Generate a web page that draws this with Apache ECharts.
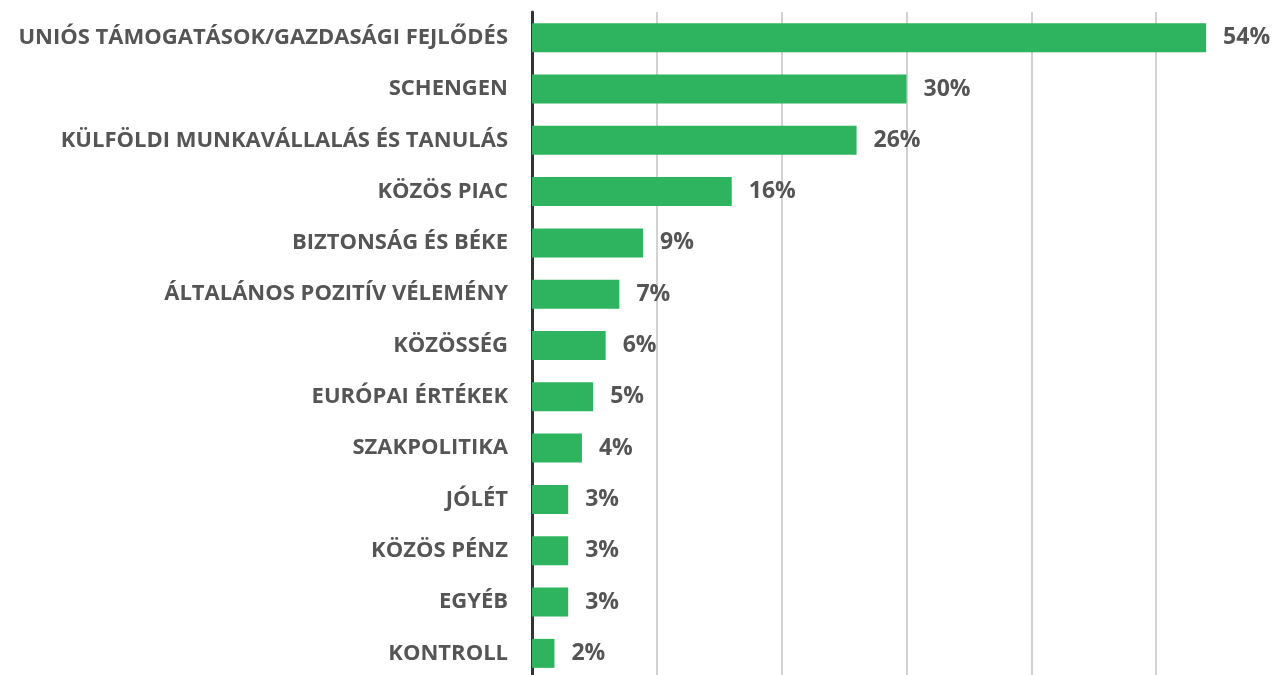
<!DOCTYPE html>
<html>
<head>
<meta charset="utf-8">
<script src="https://cdn.jsdelivr.net/npm/echarts@6/dist/echarts.min.js"></script>
<style>
  html, body { margin: 0; padding: 0; background: #fff; }
  #chart { width: 1274px; height: 675px; }
</style>
</head>
<body>
<div id="chart"></div>
<script>
// categories top to bottom
const categories = [
  "UNIÓS TÁMOGATÁSOK/GAZDASÁGI FEJLŐDÉS",
  "SCHENGEN",
  "KÜLFÖLDI MUNKAVÁLLALÁS ÉS TANULÁS",
  "KÖZÖS PIAC",
  "BIZTONSÁG ÉS BÉKE",
  "ÁLTALÁNOS POZITÍV VÉLEMÉNY",
  "KÖZÖSSÉG",
  "EURÓPAI ÉRTÉKEK",
  "SZAKPOLITIKA",
  "JÓLÉT",
  "KÖZÖS PÉNZ",
  "EGYÉB",
  "KONTROLL"
];
const values = [54, 30, 26, 16, 8.9, 7, 5.9, 4.9, 4, 2.9, 2.9, 2.9, 1.8];

const chart = echarts.init(document.getElementById('chart'));
const option = {
  animation: false,
  grid: { left: 532, top: 12, width: 749, height: 667, outerBoundsMode: 'none' },
  xAxis: {
    type: 'value',
    min: 0,
    max: 60,
    interval: 10,
    axisLabel: { show: false },
    axisLine: { show: false },
    axisTick: { show: false },
    splitLine: { lineStyle: { color: '#d2d2d2', width: 2 } }
  },
  yAxis: {
    type: 'category',
    inverse: true,
    data: categories,
    axisTick: { show: false },
    axisLine: { lineStyle: { color: '#333333', width: 3 } },
    axisLabel: {
      margin: 24,
      color: '#555555',
      fontFamily: 'Open Sans',
      fontWeight: 'bold',
      fontSize: 22
    }
  },
  series: [{
    type: 'bar',
    data: values,
    barWidth: 29,
    itemStyle: { color: '#2eb45e' },
    label: {
      show: true,
      position: 'right',
      distance: 17,
      color: '#555555',
      fontFamily: 'Open Sans',
      fontWeight: 'bold',
      fontSize: 23,
      formatter: p => Math.round(p.value) + '%'
    }
  }]
};
chart.setOption(option);
</script>
</body>
</html>
